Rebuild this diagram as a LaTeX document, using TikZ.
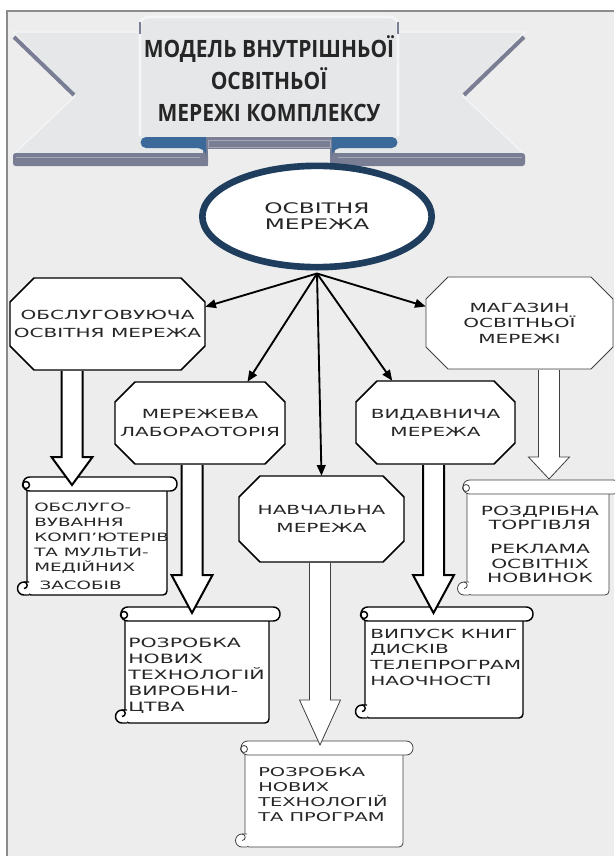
\documentclass[tikz,border=0pt]{standalone}
\usepackage{fontspec}
\setmainfont{DejaVu Sans}
\newfontfamily\widefont[FakeStretch=1.6]{DejaVu Sans}
\newfontfamily\titlefont[FakeStretch=0.88]{Open Sans}
\usetikzlibrary{shapes.geometric,arrows.meta,calc}

\definecolor{pagegray}{HTML}{EDEDED}
\definecolor{ribbon}{HTML}{E6E7E9}
\definecolor{ribhi}{HTML}{F4F5F6}
\definecolor{ribdark}{HTML}{7A7E95}
\definecolor{ribline}{HTML}{A4A7B8}
\definecolor{ribblue}{HTML}{3B6A9A}
\definecolor{navy}{HTML}{1F3E5E}
\definecolor{ink}{HTML}{262626}

% scroll: [style]{left}{top}{right}{bottom}{end of roll}
\newcommand\scrollshape[6][]{%
  \filldraw[scrollline,#1,rounded corners=3pt] (#2,{#3+7}) -- (#2,#5) -- (#4,#5) -- (#4,{#3+7}) -- cycle;
  \filldraw[scrollline,#1] ({#2+2},{#5-13}) -- ({#2-3},{#5-13}) arc[start angle=270,end angle=90,radius=6.5] -- ({#2+2},#5);
  \draw[scrollline,#1,fill=none] ({#2-3},{#5-13}) arc[start angle=270,end angle=450,radius=3.25];
  \filldraw[scrollline,#1,rounded corners=5pt] ({#2-4},#3) rectangle (#6,{#3+14});
  \draw[scrollline,#1,fill=none] ({#2-1},{#3+8}) circle (3.5);
}
% hollow arrow: [style]{from node}{tip}{head length}
\newcommand\blockarrow[4][]{%
  \filldraw[bigarrow,#1] ($(#3 |- #2.south)+(-10.5,0.8)$) -- ($(#3)+(-10.5,-#4)$) -- ($(#3)+(-20.5,-#4)$) -- (#3)
    -- ($(#3)+(20.5,-#4)$) -- ($(#3)+(10.5,-#4)$) -- ($(#3 |- #2.south)+(10.5,0.8)$);
}

\begin{document}
\begin{tikzpicture}[x=0.75pt,y=-0.75pt,
    octa/.style={draw, line width=1.1pt, fill=white},
    octathin/.style={draw=black!75, line width=0.6pt, fill=white},
    octtext/.style={font=\widefont\fontsize{9.4}{13.5}\selectfont, text=ink, align=center, inner sep=0pt},
    scrollline/.style={draw, line width=1.1pt, fill=white},
    thinline/.style={draw=black!75, line width=0.6pt},
    scrolltext/.style={text=ink, align=left, inner sep=0pt, anchor=north west},
    bigarrow/.style={draw, line width=1.5pt, fill=white, line join=miter},
    link/.style={line width=1.4pt, -{Triangle[length=8pt,width=6.5pt]}}]
    \useasboundingbox (0,0) rectangle (614,856);

    % page
    \fill[pagegray] (7,11) rectangle (614,856);
    \draw[black!45, line width=0.8pt] (7,856) -- (7,11) -- (614,11);

    % ribbon
    \filldraw[fill=ribbon, draw=ribhi, line width=1pt] (13,32) -- (207,32) -- (207,155) -- (13,155) -- (75,96) -- cycle;
    \filldraw[fill=ribbon, draw=ribhi, line width=1pt] (525,32) -- (331,32) -- (331,155) -- (525,155) -- (463,96) -- cycle;
    \draw[ribdark, line width=3pt] (14,37) -- (74,95);
    \draw[ribdark, line width=3pt] (524,37) -- (464,95);
    \fill[ribdark, rounded corners=2pt] (13,153) rectangle (208,166);
    \fill[ribdark, rounded corners=2pt] (330,153) rectangle (525,166);
    \fill[ribdark] (203,137) rectangle (335,149);
    \fill[ribdark] (203,137) rectangle (208,166);
    \fill[ribdark] (330,137) rectangle (335,166);
    \draw[ribline, line width=0.5pt] (208,140) rectangle (330,147);
    \draw[ribline, line width=0.5pt] (16,157) -- (200,157) (338,157) -- (522,157);
    \fill[ribblue] (206,137) -- (146,137) arc[start angle=270,end angle=90,radius=5.5] -- (195,148)
        .. controls (203,148) and (206,151) .. (206,157) -- cycle;
    \fill[ribblue] (332,137) -- (392,137) arc[start angle=270,end angle=450,radius=5.5] -- (343,148)
        .. controls (335,148) and (332,151) .. (332,157) -- cycle;
    \filldraw[fill=ribbon, draw=ribhi, line width=2pt, rounded corners=6pt] (140,136) -- (140,17) -- (398,17) -- (398,136);
    \draw[ribdark, line width=1pt] (140,22) -- (140,34) (398,22) -- (398,34);
    \node[font=\titlefont\bfseries\fontsize{17.9}{24}\selectfont, text=ink, align=center, inner sep=0pt]
        (title) at (269,79) {МОДЕЛЬ ВНУТРІШНЬОЇ\\ОСВІТНЬОЇ\\МЕРЕЖІ КОМПЛЕКСУ};

    % octagons
    \draw[octa] (34,278) -- (181,278) -- (205,302) -- (205,346) -- (181,370) -- (34,370) -- (10,346) -- (10,302) -- cycle;
    \node[octtext, minimum width=146.25pt, minimum height=69pt] (obsl) at (107.5,324) {ОБСЛУГОВУЮЧА\\ОСВІТНЯ МЕРЕЖА};
    \draw[octa] (135,382) -- (265,382) -- (285,402) -- (285,444) -- (265,464) -- (135,464) -- (115,444) -- (115,402) -- cycle;
    \node[octtext, minimum width=127.5pt, minimum height=61.5pt] (lab) at (200,423) {МЕРЕЖЕВА\\ЛАБОРАОТОРІЯ};
    \draw[octa] (260,476) -- (383,476) -- (404,497) -- (404,541) -- (383,562) -- (260,562) -- (239,541) -- (239,497) -- cycle;
    \node[octtext, minimum width=123.75pt, minimum height=64.5pt] (navch) at (321.5,519) {НАВЧАЛЬНА\\МЕРЕЖА};
    \draw[octa] (377,381) -- (494,381) -- (515,402) -- (515,443) -- (494,464) -- (377,464) -- (356,443) -- (356,402) -- cycle;
    \node[octtext, minimum width=119.25pt, minimum height=62.25pt] (vyd) at (435.5,422.5) {ВИДАВНИЧА\\МЕРЕЖА};
    \draw[octathin] (448,277) -- (591,277) -- (613,299) -- (613,347) -- (591,369) -- (448,369) -- (426,347) -- (426,299) -- cycle;
    \node[octtext, font=\widefont\fontsize{9.4}{11.6}\selectfont, minimum width=140.25pt, minimum height=69pt] (mag) at (519.5,323) {МАГАЗИН\\ОСВІТНЬОЇ\\МЕРЕЖІ};

    % scrolls
    \scrollshape{27}{477}{167}{595}{177}
    \node[scrolltext, font=\widefont\fontsize{8.6}{11.25}\selectfont] (s1) at (34,503)
        {ОБСЛУГО-\\ВУВАННЯ\\КОМП’ЮТЕРІВ\\ТА МУЛЬТИ-\\МЕДІЙНИХ\\[2pt]\hspace*{4pt}ЗАСОБІВ};
    \scrollshape{125}{607}{269}{723}{280}
    \node[scrolltext, font=\widefont\fontsize{9.6}{12}\selectfont] (s2) at (128,637.5)
        {РОЗРОБКА\\НОВИХ\\ТЕХНОЛОГІЙ\\ВИРОБНИ-\\ЦТВА};
    \scrollshape{365}{607}{523}{718}{533}
    \node[scrolltext, font=\widefont\fontsize{9.4}{11.8}\selectfont] (s3) at (370,628.5)
        {ВИПУСК КНИГ\\ДИСКІВ\\ТЕЛЕПРОГРАМ\\НАОЧНОСТІ};
    \scrollshape[thinline]{467}{480}{609}{595}{620}
    \node[scrolltext, anchor=north, align=center, font=\widefont\fontsize{9.5}{10.9}\selectfont] (s4) at (540,505.5)
        {РОЗДРІБНА\\ТОРГІВЛЯ\\[7pt]РЕКЛАМА\\ОСВІТНІХ\\НОВИНОК};
    \scrollshape[thinline]{245}{741}{403}{847}{413}
    \node[scrolltext, font=\widefont\fontsize{9.1}{11.25}\selectfont] (s5) at (258,767.5)
        {РОЗРОБКА\\НОВИХ\\ТЕХНОЛОГІЙ\\ТА ПРОГРАМ};

    % hollow arrows
    \coordinate (t1) at (72,485);
    \coordinate (t2) at (192,613);
    \coordinate (t3) at (320,745);
    \coordinate (t4) at (433.5,613);
    \coordinate (t5) at (549,479);
    \blockarrow{obsl}{t1}{28}
    \blockarrow{lab}{t2}{38}
    \blockarrow[thinline]{navch}{t3}{45}
    \blockarrow{vyd}{t4}{38}
    \blockarrow[thinline]{mag}{t5}{22}

    % root
    \node[ellipse, draw=navy, line width=5pt, fill=white, minimum width=172pt, minimum height=76pt,
        font=\widefont\fontsize{10.9}{12}\selectfont, text=ink, align=center, inner sep=0pt] (osv) at (317,216.5) {ОСВІТНЯ\\МЕРЕЖА};
    \coordinate (root) at ($(osv.south)+(0,3)$);
    \foreach \to in {obsl.10, lab.41, navch.north, vyd.136, mag.170}
        \draw[link] (root) -- (\to);
\end{tikzpicture}
\end{document}
